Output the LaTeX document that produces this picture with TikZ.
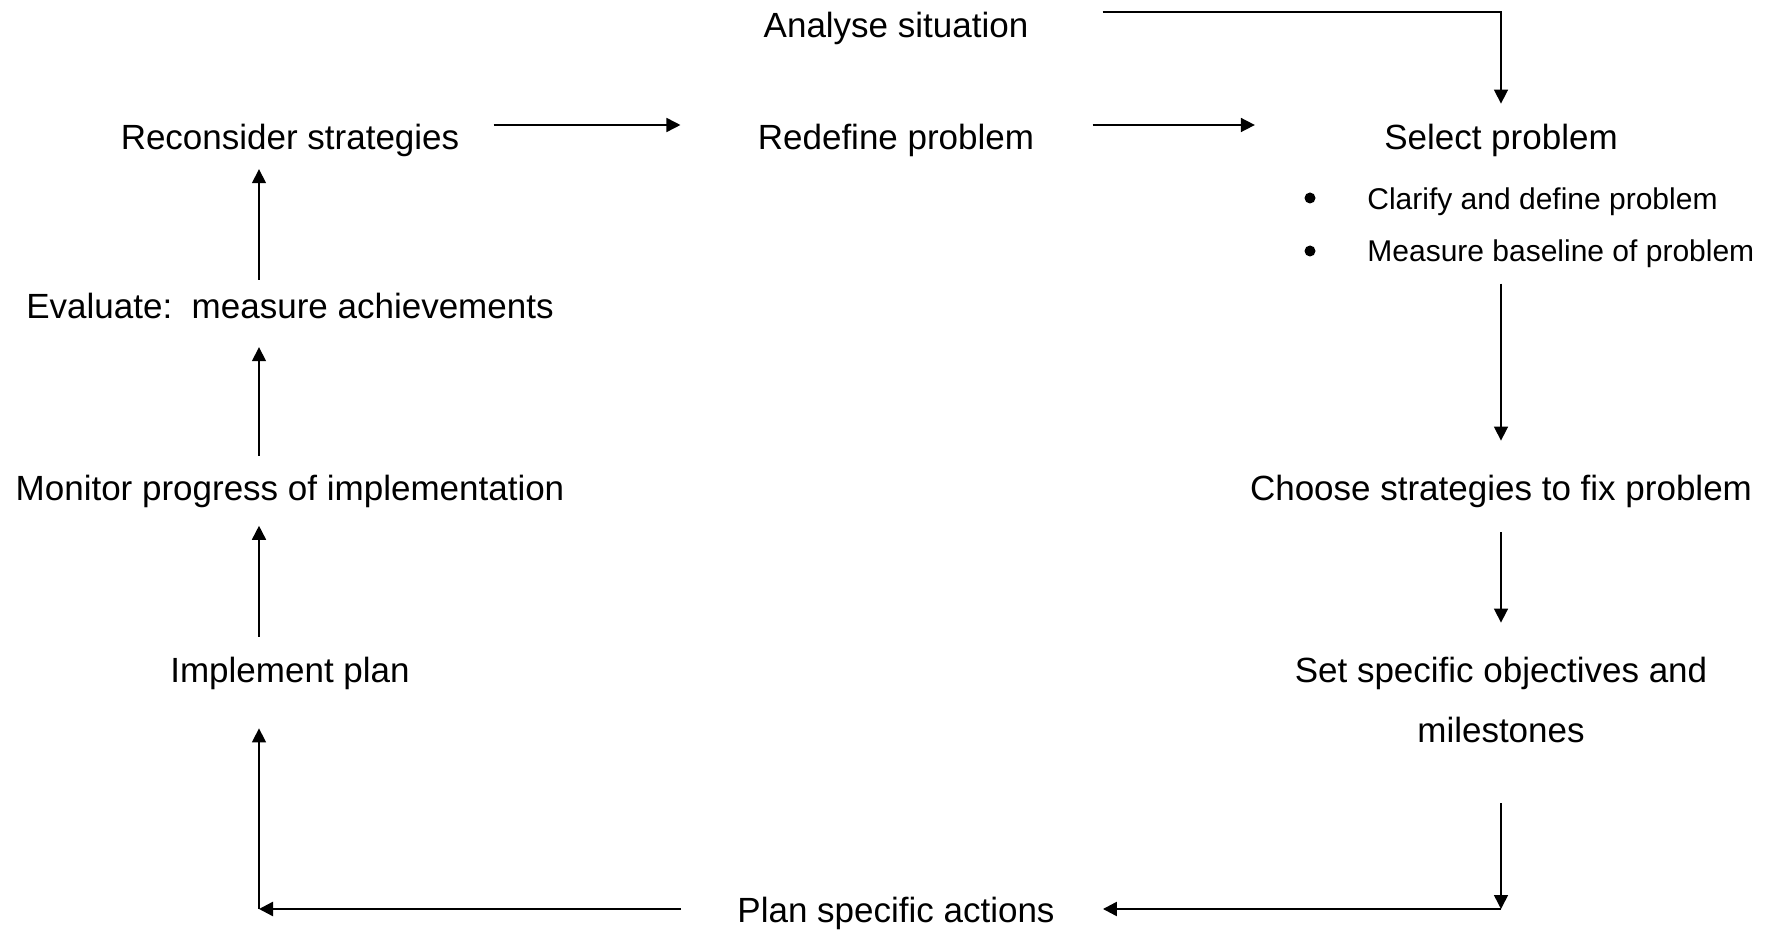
\documentclass[tikz,border=0pt]{standalone}
\usepackage{fontspec}
\setmainfont{Liberation Sans}
\usepackage{tikz}
\usetikzlibrary{positioning,arrows.meta}
\tikzset{
  lbl/.style={inner sep=0pt,text height=15.25pt,text depth=1.75pt,font=\fontsize{17.5pt}{21pt}\selectfont},
  note/.style={inner sep=0pt,text height=13.25pt,text depth=1.05pt,anchor=west,font=\fontsize{15pt}{18pt}\selectfont},
  bul/.style={circle,fill=black,inner sep=0pt,minimum size=5.5pt},
  arr/.style={line width=0.8pt,-{Triangle[length=7pt,width=7pt]}},
  thk/.style={line width=1.2pt}
}
\begin{document}
\begin{tikzpicture}[x=0.5pt,y=-0.5pt]
\useasboundingbox (0,0) rectangle (1769,930);
% top row
\node[lbl] (analyse) at (896,24) {Analyse situation};
\node[lbl] (recon) at (290,136) {Reconsider strategies};
\node[lbl] (redef) at (896,136) {Redefine problem};
\node[lbl] (select) at (1501,136) {Select problem};
\node[bul] (b1) at (1310,198) {}; \node[note] (clarify) at (1367,197) {Clarify and define problem};
\node[bul] (b2) at (1310,251) {}; \node[note] (measure) at (1367,249) {Measure baseline of problem};
% right column
\node[lbl] (choose) at (1501,487) {Choose strategies to fix problem};
\node[lbl] (objs) at (1501,669) {Set specific objectives and};
\node[lbl] (miles) at (1501,729) {milestones};
% bottom and left column
\node[lbl] (plan) at (896,909) {Plan specific actions};
\node[lbl] (impl) at (290,669) {Implement plan};
\node[lbl] (monitor) at (290,487) {Monitor progress of implementation};
\node[lbl] (eval) at (290,305) {Evaluate:\ \ measure achievements};

\draw[arr,shorten <=37pt,shorten >=7.5pt] ([yshift=6pt]analyse.east) -- ([yshift=6pt]analyse.east -| select) -- (select);
\draw[arr,shorten <=17pt,shorten >=38.5pt] ([yshift=5.5pt]recon.east) -- ([yshift=5.5pt]redef.west);
\draw[arr,shorten <=29pt,shorten >=64.5pt] ([yshift=5.5pt]redef.east) -- ([yshift=5.5pt]select.west);
\draw[arr,shorten <=10pt,shorten >=14.5pt] (measure.south -| choose) -- (choose);
\draw[arr,shorten <=14pt,shorten >=14.5pt] (choose) -- (objs);
\draw[arr,shorten <=28.5pt] (miles) -- (miles |- plan) coordinate (rturn);
\draw[arr,thk,shorten >=24pt] (rturn) -- (plan);
\draw[arr,thk,shorten <=28pt] (plan) -- ([xshift=-15.5pt]impl |- plan) coordinate (lturn);
\draw[arr,shorten >=21pt] (lturn) -- ([xshift=-15.5pt]impl.south);
\draw[arr,shorten <=7.3pt,shorten >=10.7pt] ([xshift=-15.5pt]impl.north) -- ([xshift=-15.5pt]monitor.south);
\draw[arr,shorten <=6.8pt,shorten >=12.4pt] ([xshift=-15.5pt]monitor.north) -- ([xshift=-15.5pt]eval.south);
\draw[arr,shorten <=3.9pt,shorten >=7.9pt] ([xshift=-15.5pt]eval.north) -- ([xshift=-15.5pt]recon.south);
\end{tikzpicture}
\end{document}
